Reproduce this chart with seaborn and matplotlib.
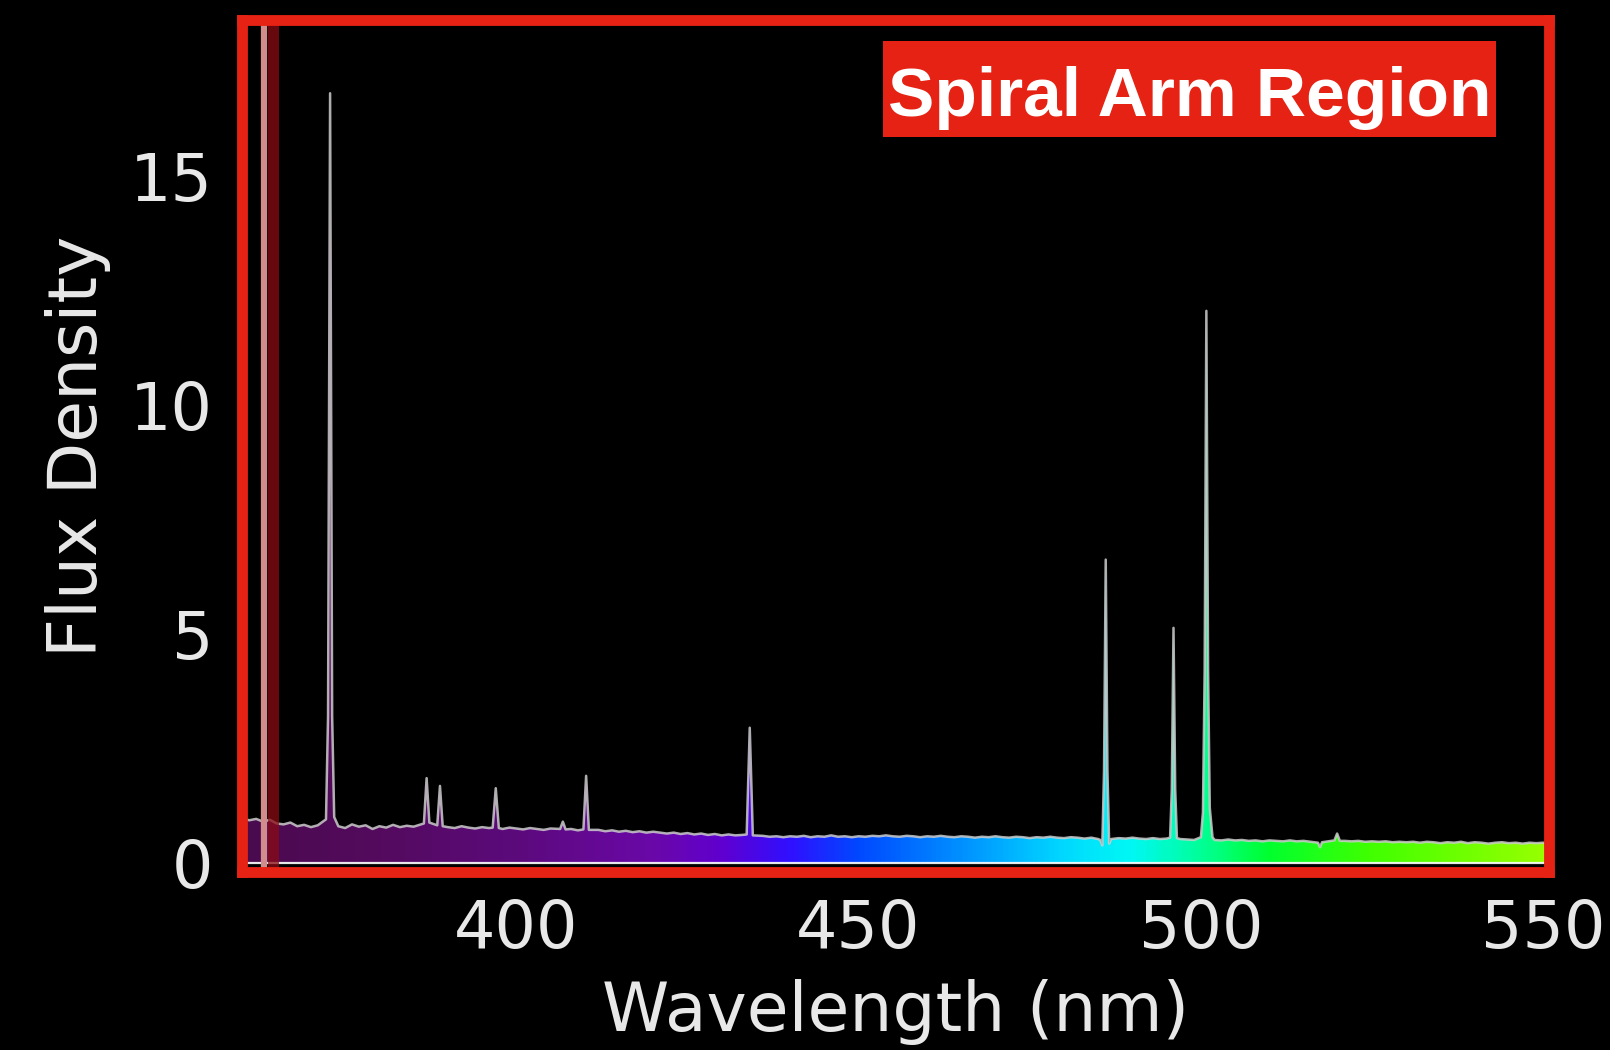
import numpy as np
import pandas as pd
import matplotlib
matplotlib.use("Agg")
import matplotlib.pyplot as plt
import seaborn as sns
from matplotlib.colors import LinearSegmentedColormap
from matplotlib.patches import PathPatch, Rectangle

# ---------------- data ----------------
cont_wl = list(range(360, 552))
cont_flux = [
    0.97, 0.93, 0.96, 0.90, 0.94, 0.86, 0.84, 0.88, 0.80, 0.83,
    0.78, 0.82, 0.86, 0.90, 0.80, 0.76, 0.84, 0.79, 0.82, 0.74,
    0.80, 0.77, 0.83, 0.78, 0.81, 0.79, 0.84, 0.86, 0.80, 0.80,
    0.78, 0.76, 0.80, 0.77, 0.75, 0.78, 0.76, 0.77, 0.74, 0.77,
    0.75, 0.73, 0.76, 0.74, 0.72, 0.75, 0.73, 0.73, 0.74, 0.71,
    0.72, 0.70, 0.72, 0.69, 0.71, 0.68, 0.70, 0.67, 0.69, 0.66,
    0.68, 0.66, 0.64, 0.66, 0.63, 0.65, 0.62, 0.64, 0.61, 0.63,
    0.60, 0.62, 0.60, 0.61, 0.60, 0.57, 0.59, 0.57, 0.58, 0.56,
    0.58, 0.57, 0.59, 0.56, 0.58, 0.57, 0.60, 0.57, 0.58, 0.56,
    0.58, 0.57, 0.59, 0.58, 0.60, 0.58, 0.57, 0.59, 0.58, 0.56,
    0.58, 0.57, 0.59, 0.57, 0.56, 0.58, 0.57, 0.55, 0.57, 0.56,
    0.58, 0.56, 0.55, 0.57, 0.56, 0.54, 0.56, 0.55, 0.57, 0.55,
    0.54, 0.56, 0.55, 0.53, 0.55, 0.52, 0.50, 0.52, 0.54, 0.53,
    0.55, 0.53, 0.52, 0.54, 0.52, 0.53, 0.53, 0.52, 0.51, 0.50,
    0.52, 0.52, 0.50, 0.49, 0.51, 0.49, 0.50, 0.48, 0.49, 0.47,
    0.49, 0.48, 0.47, 0.49, 0.47, 0.48, 0.46, 0.44, 0.45, 0.50,
    0.48, 0.48, 0.47, 0.48, 0.46, 0.47, 0.46, 0.47, 0.45, 0.46,
    0.45, 0.46, 0.44, 0.46, 0.45, 0.43, 0.45, 0.44, 0.46, 0.43,
    0.45, 0.44, 0.42, 0.44, 0.45, 0.43, 0.44, 0.42, 0.44, 0.43,
    0.44, 0.43,
]

# emission-line centres (nm) and profile points around them
line_centers = [372.8, 386.9, 388.85, 397.0, 406.8, 410.2, 434.1,
                486.1, 496.0, 500.8, 517.4, 519.9]
line_wl = [
    372.2, 372.5, 372.8, 373.1, 373.4,
    386.5, 386.9, 387.3,
    388.45, 388.85, 389.25,
    396.55, 397.0, 397.45,
    406.4, 406.8, 407.2,
    409.8, 410.2, 410.6,
    433.65, 434.1, 434.55,
    485.3, 485.6, 485.85, 486.1, 486.35, 486.6, 486.9,
    495.5, 495.75, 496.0, 496.25, 496.5,
    500.0, 500.3, 500.55, 500.8, 501.05, 501.3, 501.7,
    517.1, 517.4, 517.7,
    519.5, 519.9, 520.3,
]
line_flux = [
    0.95, 3.2, 16.8, 3.2, 1.0,
    0.86, 1.85, 0.88,
    0.82, 1.68, 0.80,
    0.77, 1.63, 0.76,
    0.74, 0.90, 0.73,
    0.73, 1.90, 0.72,
    0.62, 2.95, 0.60,
    0.50, 0.38, 2.0, 6.62, 2.0, 0.42, 0.52,
    0.55, 1.6, 5.13, 1.6, 0.54,
    0.56, 1.1, 4.2, 12.05, 4.2, 1.2, 0.56,
    0.44, 0.34, 0.45,
    0.49, 0.64, 0.48,
]

x_ticks = [400, 450, 500, 550]
y_ticks = [0, 5, 10, 15]
marker_wl = 363.2
title_text = "Spiral Arm Region"

# spectrum colour stops (wavelength nm, colour)
grad_wl = [360, 380, 400, 420, 430, 440, 450, 465, 480, 490, 500, 510, 525, 551]
grad_col = ["#4a0a4e", "#540b5e", "#5c0a7c", "#6a08a8", "#6000d0", "#3010ff",
            "#0048ff", "#0090ff", "#00d8ff", "#00f8f4", "#00ff9a", "#00ff30",
            "#40ff00", "#98ff00"]

# ---------------- assemble series ----------------
cw = np.array(cont_wl, dtype=float)
cf = np.array(cont_flux, dtype=float)
assert len(cw) == len(cf)
assert len(line_wl) == len(line_flux)
keep = np.ones(len(cw), dtype=bool)
for c in line_centers:
    keep &= np.abs(cw - c) > 0.9
wl = np.concatenate([cw[keep], np.array(line_wl)])
fl = np.concatenate([cf[keep], np.array(line_flux)])
order = np.argsort(wl)
df = pd.DataFrame({"wl": wl[order], "flux": fl[order]})

# ---------------- style ----------------
sns.set_theme(style="dark")
plt.rcParams["font.family"] = ["DejaVu Sans"]

RED = "#e52213"
XMIN, XMAX = 360.0, 550.8
YMIN, YMAX = -0.2, 18.4

fig = plt.figure(figsize=(16.1, 10.5), dpi=100, facecolor="black")
ax = fig.add_axes([0.1506, 0.1695, 0.8113, 0.8115])
ax.set_facecolor("black")

# gradient fill under the curve
pos = [(w - XMIN) / (XMAX - XMIN) for w in grad_wl]
pos = [min(max(p, 0.0), 1.0) for p in pos]
cmap = LinearSegmentedColormap.from_list("spec", list(zip(pos, grad_col)))
grad = np.linspace(0, 1, 800).reshape(1, -1)
im = ax.imshow(grad, cmap=cmap, extent=[XMIN, XMAX, 0, YMAX], aspect="auto",
               origin="lower", zorder=1, interpolation="bilinear")
poly = ax.fill_between(df["wl"], df["flux"], 0, facecolor="none", edgecolor="none")
clip = PathPatch(poly.get_paths()[0], transform=ax.transData,
                 facecolor="none", edgecolor="none")
ax.add_patch(clip)
im.set_clip_path(clip)

sns.lineplot(data=df, x="wl", y="flux", ax=ax, color="#cccccc", lw=1.8,
             alpha=0.85, zorder=3, estimator=None, sort=False)

ax.axhline(0, color="white", lw=1.6, alpha=0.9, zorder=4)
ax.axvspan(marker_wl + 0.5, marker_wl + 2.2, color="#8a0a14", alpha=0.75,
           lw=0, zorder=4)
ax.axvline(marker_wl, color="#d28c8c", lw=4.5, zorder=4)

ax.set_xlim(XMIN, XMAX)
ax.set_ylim(YMIN, YMAX)
ax.set_xticks(x_ticks)
ax.set_yticks(y_ticks)
ax.grid(False)

for s in ax.spines.values():
    s.set_visible(True)
    s.set_color(RED)
    s.set_linewidth(7.8)
    s.set_zorder(6)

ax.tick_params(axis="both", colors="white", labelcolor="#e8e8e8",
               labelsize=47, length=4, width=1.5, direction="out")
ax.tick_params(axis="x", pad=15)
ax.tick_params(axis="y", pad=17)

ax.set_xlabel("Wavelength (nm)", fontsize=49, color="#e8e8e8", labelpad=12)
ax.set_ylabel("Flux Density", fontsize=49, color="#e8e8e8", labelpad=14)

# title label in a red box
ax.add_patch(Rectangle((0.4904, 0.8627), 0.4693, 0.1127, transform=ax.transAxes,
                       facecolor=RED, edgecolor="none", zorder=7, clip_on=False))
ax.text(0.725, 0.887, title_text, transform=ax.transAxes, ha="center",
        va="baseline", fontsize=50, fontweight="bold",
        family=["Liberation Sans", "DejaVu Sans"], color="white", zorder=8)

fig.savefig("out.png", dpi=100, facecolor="black")
